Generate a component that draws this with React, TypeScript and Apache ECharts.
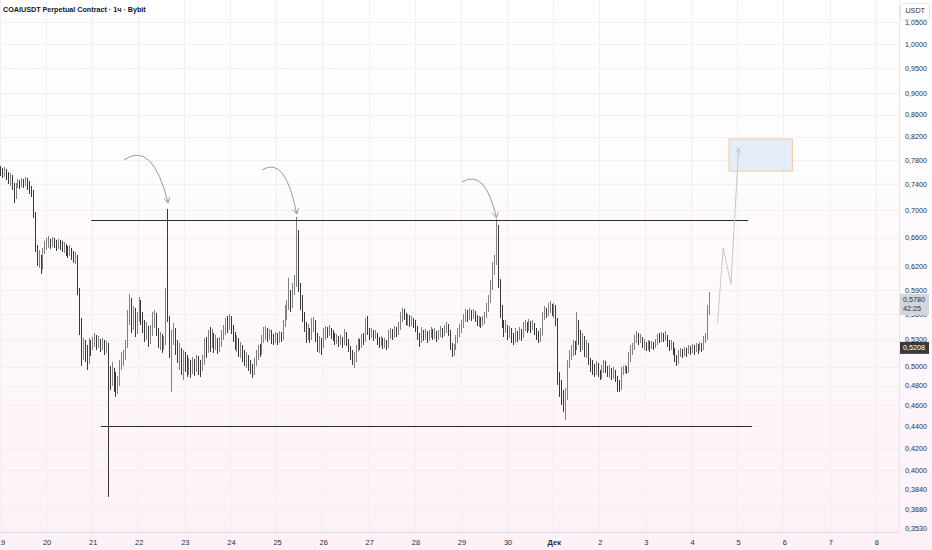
import { useEffect, useRef } from 'react'
import * as echarts from 'echarts'

// hourly candles from Nov 19 00:00, one row per hour: [close, high, low]
// the open of each candle is the close of the one before it
const firstOpen = 0.7637

const nov19 = [
  [.7604, .7703, .7539], [.7555, .7670, .7507], [.7621, .7686, .7523], [.7571, .7653, .7475], [.7507, .7604, .7411], [.7539, .7588, .7379],
  [.7395, .7555, .7316], [.7206, .7427, .7114], [.7379, .7427, .7175], [.7427, .7491, .7348], [.7395, .7475, .7332], [.7443, .7507, .7363],
  [.7411, .7491, .7348], [.7459, .7523, .7379], [.7411, .7507, .7316], [.7316, .7459, .7253], [.7269, .7379, .7206], [.6933, .7316, .6889],
  [.6459, .6978, .6403], [.6267, .6500, .6213], [.6321, .6431, .6187], [.6187, .6362, .6107], [.6403, .6459, .6160], [.6472, .6557, .6376],
]
const nov20 = [
  [.6514, .6599, .6431], [.6557, .6628, .6459], [.6500, .6585, .6445], [.6571, .6613, .6472], [.6528, .6599, .6459], [.6486, .6571, .6417],
  [.6542, .6585, .6445], [.6514, .6571, .6431], [.6459, .6557, .6403], [.6486, .6542, .6390], [.6431, .6514, .6349], [.6390, .6486, .6321],
  [.6445, .6500, .6349], [.6362, .6459, .6294], [.6321, .6417, .6254], [.6349, .6403, .6240], [.5901, .6362, .5837], [.5508, .5926, .5356],
  [.5209, .5556, .5011], [.5265, .5322, .5076], [.5131, .5299, .5054], [.5076, .5242, .4968], [.5242, .5322, .5033], [.5209, .5299, .5120],
]
const nov21 = [
  [.5276, .5333, .5186], [.5322, .5379, .5220], [.5254, .5356, .5186], [.5299, .5345, .5209], [.5231, .5310, .5164], [.5265, .5322, .5186],
  [.5209, .5299, .5131], [.5242, .5288, .5153], [.4947, .5265, .3781], [.4862, .5011, .4759], [.4968, .5054, .4800], [.4884, .4990, .4739],
  [.4779, .4947, .4688], [.4831, .4905, .4718], [.4990, .5076, .4800], [.5076, .5164, .4968], [.5120, .5186, .5011], [.5242, .5299, .5076],
  [.5532, .5652, .5209], [.5775, .5850, .5472], [.5556, .5800, .5379], [.5628, .5701, .5414], [.5472, .5677, .5333], [.5532, .5628, .5368],
]
const nov22 = [
  [.5713, .5812, .5508], [.5591, .5775, .5472], [.5472, .5628, .5379], [.5356, .5532, .5276], [.5414, .5508, .5299], [.5322, .5461, .5220],
  [.5391, .5472, .5254], [.5556, .5628, .5345], [.5591, .5652, .5437], [.5414, .5616, .5345], [.5299, .5437, .5209], [.5333, .5391, .5186],
  [.5242, .5368, .5153], [.5276, .5345, .5186], [.5837, .5926, .5242], [.5556, .7023, .5508], [.5186, .5579, .5098], [.5299, .5414, .4739],
  [.5414, .5496, .5242], [.5242, .5437, .5131], [.5131, .5299, .5044], [.5186, .5265, .4968], [.5054, .5209, .4915], [.5098, .5186, .4862],
]
const nov23 = [
  [.5054, .5164, .4947], [.4990, .5131, .4894], [.5022, .5098, .4915], [.4968, .5076, .4884], [.5044, .5109, .4926], [.5001, .5087, .4905],
  [.5076, .5131, .4947], [.5011, .5120, .4915], [.4979, .5076, .4894], [.5054, .5131, .4958], [.5242, .5322, .5022], [.5186, .5333, .5098],
  [.5322, .5414, .5153], [.5265, .5449, .5164], [.5356, .5426, .5209], [.5242, .5379, .5153], [.5299, .5356, .5186], [.5209, .5322, .5142],
  [.5265, .5333, .5164], [.5356, .5414, .5220], [.5414, .5472, .5299], [.5508, .5556, .5356], [.5472, .5579, .5379], [.5556, .5603, .5414],
]
const nov24 = [
  [.5437, .5579, .5368], [.5356, .5472, .5276], [.5242, .5391, .5186], [.5299, .5356, .5164], [.5186, .5322, .5109], [.5220, .5276, .5098],
  [.5131, .5242, .5054], [.5076, .5186, .5011], [.5098, .5164, .4990], [.5022, .5131, .4958], [.4990, .5076, .4926], [.4947, .5033, .4884],
  [.5054, .5098, .4915], [.5131, .5186, .5011], [.5186, .5242, .5076], [.5164, .5254, .5109], [.5299, .5356, .5131], [.5379, .5449, .5265],
  [.5414, .5461, .5299], [.5345, .5437, .5276], [.5379, .5426, .5299], [.5322, .5414, .5254], [.5299, .5368, .5242], [.5345, .5391, .5265],
]
const nov25 = [
  [.5299, .5379, .5242], [.5356, .5402, .5265], [.5322, .5391, .5276], [.5472, .5532, .5299], [.5591, .5713, .5449], [.5713, .5775, .5532],
  [.5837, .6055, .5652], [.5713, .5901, .5628], [.5901, .5990, .5677], [.6003, .6094, .5837], [.6685, .6903, .5939], [.5965, .6713, .5875],
  [.5775, .5990, .5652], [.5591, .5837, .5508], [.5472, .5628, .5391], [.5356, .5508, .5265], [.5414, .5484, .5299], [.5322, .5437, .5265],
  [.5437, .5556, .5299], [.5508, .5567, .5391], [.5356, .5532, .5276], [.5242, .5379, .5164], [.5299, .5345, .5153], [.5209, .5322, .5131],
]
const nov26 = [
  [.5356, .5437, .5242], [.5414, .5461, .5299], [.5379, .5449, .5322], [.5414, .5472, .5345], [.5368, .5437, .5310], [.5345, .5414, .5288],
  [.5299, .5379, .5242], [.5322, .5368, .5254], [.5276, .5345, .5220], [.5310, .5356, .5242], [.5265, .5333, .5209], [.5345, .5426, .5242],
  [.5288, .5391, .5231], [.5209, .5310, .5164], [.5131, .5231, .5076], [.5076, .5186, .5022], [.5109, .5164, .4990], [.5186, .5242, .5054],
  [.5265, .5322, .5164], [.5242, .5310, .5186], [.5322, .5368, .5209], [.5299, .5379, .5242], [.5472, .5556, .5276], [.5414, .5579, .5356],
]
const nov27 = [
  [.5356, .5437, .5299], [.5391, .5437, .5322], [.5333, .5414, .5288], [.5368, .5414, .5310], [.5299, .5379, .5242], [.5265, .5333, .5209],
  [.5299, .5345, .5231], [.5242, .5322, .5197], [.5276, .5322, .5209], [.5231, .5299, .5186], [.5356, .5414, .5209], [.5391, .5437, .5310],
  [.5345, .5426, .5299], [.5414, .5461, .5322], [.5379, .5449, .5333], [.5437, .5508, .5356], [.5556, .5628, .5414], [.5628, .5677, .5508],
  [.5579, .5664, .5532], [.5532, .5616, .5472], [.5556, .5603, .5461], [.5508, .5591, .5449], [.5532, .5579, .5461], [.5484, .5556, .5437],
]
const nov28 = [
  [.5437, .5532, .5391], [.5356, .5461, .5299], [.5299, .5379, .5220], [.5391, .5449, .5265], [.5333, .5414, .5288], [.5368, .5426, .5299],
  [.5310, .5402, .5265], [.5356, .5414, .5288], [.5402, .5449, .5322], [.5345, .5426, .5299], [.5379, .5437, .5310], [.5322, .5402, .5276],
  [.5368, .5414, .5299], [.5414, .5461, .5333], [.5368, .5437, .5322], [.5426, .5472, .5345], [.5461, .5508, .5379], [.5391, .5484, .5345],
  [.5242, .5414, .5186], [.5164, .5265, .5109], [.5209, .5254, .5120], [.5299, .5356, .5186], [.5379, .5437, .5265], [.5414, .5484, .5333],
]
const nov29 = [
  [.5472, .5532, .5379], [.5556, .5603, .5437], [.5603, .5664, .5508], [.5556, .5652, .5508], [.5628, .5677, .5532], [.5579, .5652, .5520],
  [.5616, .5664, .5544], [.5556, .5640, .5508], [.5508, .5591, .5461], [.5544, .5579, .5449], [.5484, .5567, .5437], [.5532, .5579, .5461],
  [.5579, .5628, .5484], [.5677, .5738, .5556], [.5775, .5837, .5628], [.5965, .6029, .5738], [.6160, .6267, .5901], [.6267, .6362, .6094],
  [.6742, .6874, .6227], [.6029, .6786, .5926], [.5652, .6040, .5556], [.5508, .5713, .5437], [.5414, .5532, .5333], [.5472, .5532, .5379],
]
const nov30 = [
  [.5356, .5472, .5299], [.5414, .5461, .5322], [.5333, .5437, .5265], [.5299, .5379, .5242], [.5368, .5437, .5265], [.5322, .5402, .5276],
  [.5391, .5449, .5299], [.5345, .5426, .5288], [.5437, .5508, .5322], [.5472, .5532, .5402], [.5426, .5508, .5379], [.5484, .5544, .5402],
  [.5437, .5520, .5379], [.5472, .5532, .5414], [.5402, .5496, .5356], [.5345, .5437, .5299], [.5299, .5402, .5265], [.5379, .5437, .5276],
  [.5556, .5628, .5345], [.5628, .5701, .5532], [.5591, .5677, .5556], [.5652, .5738, .5579], [.5701, .5763, .5616], [.5628, .5725, .5579],
]
const dec01 = [
  [.5677, .5738, .5556], [.5532, .5713, .5461], [.4884, .5556, .4810], [.4810, .4947, .4688], [.4678, .4862, .4608], [.4608, .4759, .4540],
  [.4708, .4779, .4462], [.5022, .5076, .4658], [.5131, .5186, .4990], [.5186, .5242, .5076], [.5242, .5299, .5120], [.5209, .5288, .5131],
  [.5472, .5628, .5186], [.5391, .5532, .5242], [.5242, .5414, .5164], [.5322, .5379, .5186], [.5186, .5345, .5109], [.5242, .5299, .5098],
  [.5076, .5265, .5022], [.5022, .5098, .4947], [.4990, .5076, .4915], [.4947, .5033, .4894], [.5011, .5065, .4915], [.4968, .5044, .4894],
]
const dec02 = [
  [.4905, .4968, .4862], [.4968, .5022, .4873], [.5033, .5076, .4936], [.4990, .5065, .4936], [.4947, .5011, .4894], [.4979, .5022, .4884],
  [.4915, .4990, .4862], [.4947, .5001, .4873], [.4884, .4968, .4842], [.4800, .4905, .4739], [.4769, .4862, .4739], [.4947, .5001, .4759],
  [.4968, .5011, .4915], [.4990, .5022, .4936], [.4958, .5011, .4926], [.5076, .5164, .4936], [.5164, .5242, .5054], [.5209, .5265, .5131],
  [.5299, .5356, .5186], [.5345, .5402, .5265], [.5288, .5379, .5242], [.5322, .5368, .5265], [.5242, .5333, .5209], [.5265, .5310, .5186],
]
const dec03 = [
  [.5220, .5276, .5175], [.5254, .5299, .5186], [.5209, .5288, .5164], [.5242, .5288, .5197], [.5231, .5276, .5186], [.5265, .5310, .5209],
  [.5322, .5368, .5242], [.5299, .5379, .5265], [.5345, .5391, .5276], [.5310, .5379, .5276], [.5333, .5402, .5288], [.5265, .5356, .5220],
  [.5220, .5299, .5175], [.5254, .5299, .5186], [.5186, .5276, .5131], [.5098, .5209, .5054], [.5054, .5131, .5011], [.5131, .5186, .5033],
  [.5164, .5209, .5109], [.5142, .5197, .5098], [.5186, .5220, .5120], [.5153, .5209, .5109], [.5197, .5242, .5142], [.5175, .5231, .5131],
]
const dec04 = [
  [.5209, .5254, .5153], [.5175, .5242, .5131], [.5220, .5265, .5164], [.5186, .5254, .5142], [.5231, .5276, .5175], [.5209, .5265, .5164],
  [.5299, .5345, .5186], [.5322, .5379, .5265], [.5628, .5713, .5299], [.5780, .5875, .5591],
]

// x axis: one day per label, hourly slots through Dec 8
const dayLabels = ['19', '20', '21', '22', '23', '24', '25', '26', '27', '28', '29', '30', 'Дек', '2', '3', '4', '5', '6', '7', '8']
const hourSlots = 468

// price scale (log)
const priceTicks = [1.05, 1.0, 0.95, 0.9, 0.86, 0.82, 0.78, 0.74, 0.7, 0.66, 0.62, 0.59, 0.56, 0.53, 0.5, 0.48, 0.46, 0.44, 0.42, 0.4, 0.384, 0.368, 0.353]
const priceMin = 0.3506
const priceMax = 1.1009
const lastPrice = 0.578
const lastCountdown = '42:25'
const markedPrice = 0.5208

// drawings, as [hour index, price]
const resistance = [[47, 0.686], [389, 0.686]]
const support = [[52, 0.44], [391, 0.44]]
const targetBox = [[379, 0.8164], [412, 0.762]]
const projection = [[373, 0.5496], [376, 0.6459], [380, 0.5978], [384, 0.8007]]
// start, control point, end
const curvedArrows = [
  [64, 0.7804, 79, 0.8146, 87, 0.7114],
  [136, 0.7638, 148, 0.7888, 154, 0.6948],
  [240, 0.7443, 252, 0.7671, 258, 0.6889],
]

const font = '"Liberation Sans", Arial, sans-serif'
const ln = Math.log

function fmtPrice(p: number) {
  return p.toFixed(4).replace('.', ',')
}

function chevron(from: number[], to: number[]) {
  const a = Math.atan2(to[1] - from[1], to[0] - from[0])
  const len = 6
  const spread = 0.5
  return [
    [to[0] - len * Math.cos(a - spread), to[1] - len * Math.sin(a - spread)],
    [to[0], to[1]],
    [to[0] - len * Math.cos(a + spread), to[1] - len * Math.sin(a + spread)],
  ]
}

export default function App() {
  const chartRef = useRef<HTMLDivElement | null>(null)

  useEffect(() => {
    if (!chartRef.current) {
      return
    }

    const hourly = [
      ...nov19, ...nov20, ...nov21, ...nov22, ...nov23, ...nov24, ...nov25, ...nov26,
      ...nov27, ...nov28, ...nov29, ...nov30, ...dec01, ...dec02, ...dec03, ...dec04,
    ]
    let prev = firstOpen
    const candles = hourly.map(([c, h, l]) => {
      const o = prev
      prev = c
      return [ln(o), ln(c), ln(Math.min(l, o, c)), ln(Math.max(h, o, c))]
    })

    const slots = Array.from({ length: hourSlots }, (_, i) => `${Math.floor(i / 24)}-${i % 24}`)
    const dayStart = (i: number) => i % 24 === 0
    const tickLogs = priceTicks.map(ln)

    const segments = projection.slice(1).map((p, i) => [
      projection[i][0], ln(projection[i][1]), p[0], ln(p[1]), i === projection.length - 2 ? 1 : 0,
    ])

    const priceTag = (price: number, text: string, bg: string, fg: string, dy: number) => ({
      yAxis: ln(price),
      lineStyle: { color: 'rgba(0,0,0,0)', width: 0 },
      label: {
        show: true,
        position: 'end',
        distance: 1,
        offset: [0, dy],
        formatter: text,
        backgroundColor: bg,
        color: fg,
        fontSize: 7.2,
        lineHeight: 9,
        padding: [2, 4, 1, 3],
        fontFamily: font,
      },
    })

    const chart = echarts.init(chartRef.current, null, { renderer: 'svg' })
    chart.setOption({
      animation: false,
      textStyle: { fontFamily: font },
      grid: { left: 0, right: 33, top: 0, bottom: 18, outerBoundsMode: 'none', containLabel: false },
      xAxis: {
        type: 'category',
        data: slots,
        axisLine: { onZero: false, lineStyle: { color: '#dedadd' } },
        axisTick: { show: false },
        axisLabel: {
          interval: (i: number) => dayStart(i),
          margin: 6,
          fontSize: 7.5,
          color: '#2a2e39',
          formatter: (v: string) => {
            const t = dayLabels[Number(v.split('-')[0])]
            return t === 'Дек' ? '{b|Дек}' : t
          },
          rich: { b: { fontWeight: 'bold', fontSize: 7.5, color: '#2a2e39' } },
        },
        splitLine: { show: true, interval: (i: number) => dayStart(i), lineStyle: { color: '#f4eef2' } },
      },
      yAxis: {
        type: 'value',
        position: 'right',
        min: ln(priceMin),
        max: ln(priceMax),
        axisLine: { show: true, lineStyle: { color: '#e8e4e7' } },
        axisTick: { show: false, customValues: tickLogs },
        axisLabel: {
          customValues: tickLogs,
          margin: 6,
          fontSize: 7.2,
          color: '#2a2e39',
          formatter: (v: number) => fmtPrice(Math.exp(v)),
        },
        splitLine: { show: true, lineStyle: { color: '#f4eef2' } },
      },
      graphic: [
        {
          type: 'text',
          left: 3,
          top: 6,
          z: 100,
          style: { text: 'COAIUSDT Perpetual Contract · 1ч · Bybit', fontFamily: font, fontSize: 7.2, fontWeight: 'bold', fill: '#131722' },
        },
        {
          type: 'rect',
          right: 2,
          top: 3,
          z: 100,
          shape: { width: 29, height: 16, r: 3 },
          style: { fill: '#ffffff', stroke: '#e4e4e4', lineWidth: 1 },
        },
        {
          type: 'text',
          right: 7,
          top: 7,
          z: 101,
          style: { text: 'USDT', fontFamily: font, fontSize: 7.2, fill: '#2a2e39' },
        },
      ],
      series: [
        {
          type: 'candlestick',
          data: candles,
          barWidth: 1.3,
          itemStyle: {
            color: '#808080',
            borderColor: '#808080',
            color0: '#383838',
            borderColor0: '#383838',
            borderWidth: 1,
          },
          markArea: {
            silent: true,
            itemStyle: { color: 'rgba(226, 235, 250, 0.9)', borderColor: '#f1c99a', borderWidth: 1 },
            data: [[{ coord: [targetBox[0][0], ln(targetBox[0][1])] }, { coord: [targetBox[1][0], ln(targetBox[1][1])] }]],
          },
          markLine: {
            silent: true,
            symbol: 'none',
            data: [
              [
                { coord: [resistance[0][0], ln(resistance[0][1])] },
                { coord: [resistance[1][0], ln(resistance[1][1])] },
              ],
              [
                { coord: [support[0][0], ln(support[0][1])] },
                { coord: [support[1][0], ln(support[1][1])] },
              ],
              priceTag(lastPrice, `${fmtPrice(lastPrice)}\n${lastCountdown}`, '#d5d5d7', '#2a2e39', 4),
              priceTag(markedPrice, fmtPrice(markedPrice), '#3a3a3c', '#ffffff', 1),
            ],
            lineStyle: { color: '#2b2b2b', width: 1, type: 'solid' },
            label: { show: false },
          },
        },
        {
          type: 'custom',
          data: curvedArrows.map(([x0, p0, cx, cp, x1, p1]) => [x0, ln(p0), cx, ln(cp), x1, ln(p1)]),
          encode: { x: 0, y: 1 },
          z: 5,
          silent: true,
          renderItem: (_params: any, api: any) => {
            const a = api.coord([api.value(0), api.value(1)])
            const c = api.coord([api.value(2), api.value(3)])
            const b = api.coord([api.value(4), api.value(5)])
            const stroke = { stroke: '#9b9b9b', lineWidth: 1, fill: 'none' }
            return {
              type: 'group',
              children: [
                { type: 'bezierCurve', shape: { x1: a[0], y1: a[1], cpx1: c[0], cpy1: c[1], x2: b[0], y2: b[1] }, style: stroke },
                { type: 'polyline', shape: { points: chevron(c, b) }, style: stroke },
              ],
            }
          },
        },
        {
          type: 'custom',
          data: segments,
          encode: { x: 0, y: 1 },
          z: 5,
          silent: true,
          renderItem: (_params: any, api: any) => {
            const a = api.coord([api.value(0), api.value(1)])
            const b = api.coord([api.value(2), api.value(3)])
            const stroke = { stroke: '#c6c6c6', lineWidth: 1, fill: 'none' }
            const children: any[] = [{ type: 'line', shape: { x1: a[0], y1: a[1], x2: b[0], y2: b[1] }, style: stroke }]
            if (api.value(4) === 1) {
              children.push({ type: 'polyline', shape: { points: chevron(a, b) }, style: stroke })
            }
            return { type: 'group', children }
          },
        },
      ],
    })

    const resize = () => chart.resize()
    window.addEventListener('resize', resize)
    return () => {
      window.removeEventListener('resize', resize)
      chart.dispose()
    }
  }, [])

  return (
    <div
      ref={chartRef}
      style={{
        position: 'fixed',
        left: 0,
        top: 0,
        width: 932,
        height: 550,
        background: 'linear-gradient(#ffffff 0%, #fefafc 45%, #fcf1f7 100%)',
      }}
    />
  )
}
